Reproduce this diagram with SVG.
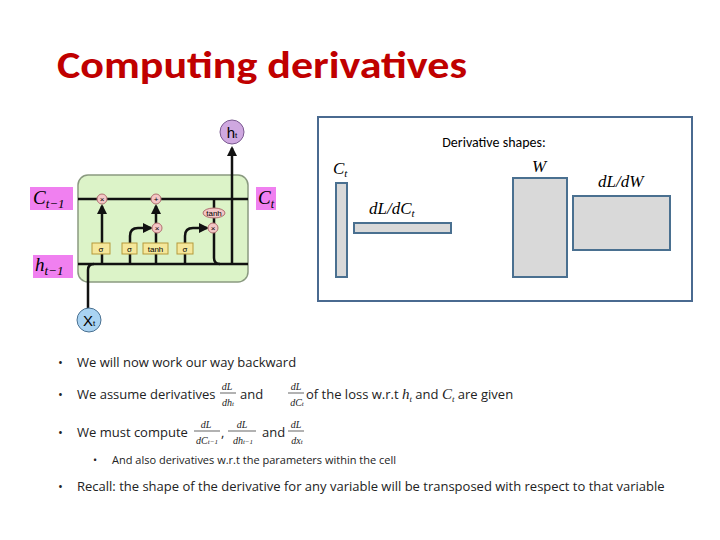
<svg xmlns="http://www.w3.org/2000/svg" width="720" height="540" viewBox="0 0 720 540">
<style>
.ln{stroke:#111;stroke-width:2.5;fill:none}
.g{fill:#f5e79a;stroke:#b59a3a;stroke-width:1}
.op{fill:#f4c6c6;stroke:#b07070;stroke-width:1}
.s{font-family:"Liberation Sans",sans-serif;font-size:8px;text-anchor:middle}
.m{font-family:"Liberation Serif",serif;font-style:italic}
.lab{fill:#f080f0}
.b{font-family:"Open Sans","Liberation Sans",sans-serif;font-size:13px;fill:#222}
.sh{fill:#d9d9d9;stroke:#4a7090;stroke-width:2}
</style>
<defs><marker id="a" viewBox="0 0 10 10" refX="8" refY="5" markerWidth="4" markerHeight="4" orient="auto"><path d="M0,0L10,5L0,10z" fill="#111"/></marker></defs>
<rect width="720" height="540" fill="#fff"/>
<text x="57" y="78" font-family="Carlito,'Liberation Sans',sans-serif" font-weight="bold" font-size="38" fill="#c00000" textLength="410" lengthAdjust="spacingAndGlyphs">Computing derivatives</text>
<g id="cell">
<rect x="78" y="175" width="170" height="107" rx="10" fill="#dcf3c8" stroke="#8a9a80" stroke-width="1.5"/>
</g>
<g id="connectors">
<path class="ln" d="M78,199H248"/>
<path class="ln" d="M78,264H248"/>
<path class="ln" d="M88,308V270Q88,264 94,264"/>
<path class="ln" d="M102,253V206" marker-end="url(#a)"/>
<path class="ln" d="M156,243V206" marker-end="url(#a)"/>
<path class="ln" d="M156,264V253"/>
<path class="ln" d="M102,264V253"/>
<path class="ln" d="M130,264V236Q130,228 138,228H151" marker-end="url(#a)"/>
<path class="ln" d="M185,264V236Q185,228 193,228H207" marker-end="url(#a)"/>
<path class="ln" d="M214,199V234V258Q214,264 220,264"/>
<path class="ln" d="M232,264V148" marker-end="url(#a)"/>
</g>
<g id="gates">
<rect class="g" x="92" y="243" width="18" height="11"/><text class="s" x="101" y="252">σ</text>
<rect class="g" x="122" y="243" width="15" height="11"/><text class="s" x="129.5" y="252">σ</text>
<rect class="g" x="143" y="243" width="25" height="11"/><text class="s" x="155.5" y="252">tanh</text>
<rect class="g" x="177" y="243" width="16" height="11"/><text class="s" x="185" y="252">σ</text>
<circle class="op" cx="102" cy="199" r="5"/><text class="s" x="102" y="202">×</text>
<circle class="op" cx="156" cy="199" r="5"/><text class="s" x="156" y="202">+</text>
<circle class="op" cx="157" cy="228" r="5"/><text class="s" x="157" y="231">×</text>
<circle class="op" cx="213" cy="228" r="5"/><text class="s" x="213" y="231">×</text>
<ellipse class="op" cx="214" cy="213" rx="11" ry="5"/><text class="s" x="214" y="216" font-size="7">tanh</text>
</g>
<g id="ht"><circle cx="232" cy="132" r="12" fill="#cfa8e0" stroke="#7a5a90"/><text x="232" y="138" font-family="'Liberation Sans',sans-serif" font-size="15" text-anchor="middle">h<tspan font-size="8">t</tspan></text></g>
<g id="xt"><circle cx="89" cy="320" r="12" fill="#a9d3f2" stroke="#4a7090"/><text x="89" y="326" font-family="'Liberation Sans',sans-serif" font-size="15" text-anchor="middle">X<tspan font-size="8">t</tspan></text></g>
<g id="labels">
<rect class="lab" x="30" y="187" width="43" height="23"/><text class="m" x="33" y="204" font-size="19">C<tspan font-size="13" dy="4">t−1</tspan></text>
<rect class="lab" x="33" y="255" width="40" height="23"/><text class="m" x="35" y="271" font-size="19">h<tspan font-size="13" dy="4">t−1</tspan></text>
<rect class="lab" x="256" y="187" width="20" height="23"/><text class="m" x="258" y="204" font-size="19">C<tspan font-size="12" dy="4">t</tspan></text>
</g>
<g id="shapes">
<rect x="318" y="117" width="374" height="184" fill="#fff" stroke="#4a6a90" stroke-width="2"/>
<text x="494" y="147" font-family="Carlito,'Liberation Sans',sans-serif" font-size="14" text-anchor="middle">Derivative shapes:</text>
<rect class="sh" x="336" y="183" width="11" height="94"/>
<rect class="sh" x="354" y="223" width="97" height="10"/>
<rect class="sh" x="513" y="178" width="54" height="99"/>
<rect class="sh" x="573" y="196" width="97" height="54"/>
<text class="m" x="333" y="174" font-size="17">C<tspan font-size="11" dy="3">t</tspan></text>
<text class="m" x="369" y="214" font-size="17">dL/dC<tspan font-size="11" dy="3">t</tspan></text>
<text class="m" x="532" y="172" font-size="17">W</text>
<text class="m" x="598" y="187" font-size="17">dL/dW</text>
</g>
<g id="bullets" class="b">
<text x="58" y="367">•</text><text x="77" y="367">We will now work our way backward</text>
<text x="58" y="399">•</text><text x="77" y="399">We assume derivatives</text>
<text class="m" font-size="10" x="227" y="390" text-anchor="middle">dL</text><path d="M220,393H236" stroke="#222" stroke-width="0.7"/><text class="m" font-size="10" x="228" y="406" text-anchor="middle">dh<tspan font-size="7">t</tspan></text>
<text x="240" y="399">and</text>
<text class="m" font-size="10" x="296" y="390" text-anchor="middle">dL</text><path d="M288,393H304" stroke="#222" stroke-width="0.7"/><text class="m" font-size="10" x="297" y="406" text-anchor="middle">dC<tspan font-size="7">t</tspan></text>
<text x="306" y="399">of the loss w.r.t <tspan class="m" font-size="15">h</tspan><tspan class="m" font-size="9" dy="3">t</tspan><tspan dy="-3"> and </tspan><tspan class="m" font-size="15">C</tspan><tspan class="m" font-size="9" dy="3">t</tspan><tspan dy="-3"> are given</tspan></text>
<text x="58" y="437">•</text><text x="77" y="437">We must compute</text>
<text class="m" font-size="10" x="206" y="428" text-anchor="middle">dL</text><path d="M194,431H220" stroke="#222" stroke-width="0.7"/><text class="m" font-size="10" x="207" y="444" text-anchor="middle">dC<tspan font-size="7">t−1</tspan></text>
<text x="221" y="437">,</text>
<text class="m" font-size="10" x="242" y="428" text-anchor="middle">dL</text><path d="M228,431H256" stroke="#222" stroke-width="0.7"/><text class="m" font-size="10" x="243" y="444" text-anchor="middle">dh<tspan font-size="7">t−1</tspan></text>
<text x="262" y="437">and</text>
<text class="m" font-size="10" x="296" y="428" text-anchor="middle">dL</text><path d="M288,431H304" stroke="#222" stroke-width="0.7"/><text class="m" font-size="10" x="297" y="444" text-anchor="middle">dx<tspan font-size="7">t</tspan></text>
<text x="93" y="464" font-size="11">•</text><text x="112" y="464" font-size="11">And also derivatives w.r.t the parameters within the cell</text>
<text x="58" y="491">•</text><text x="77" y="491">Recall: the shape of the derivative for any variable will be transposed with respect to that variable</text>
</g>
</svg>
